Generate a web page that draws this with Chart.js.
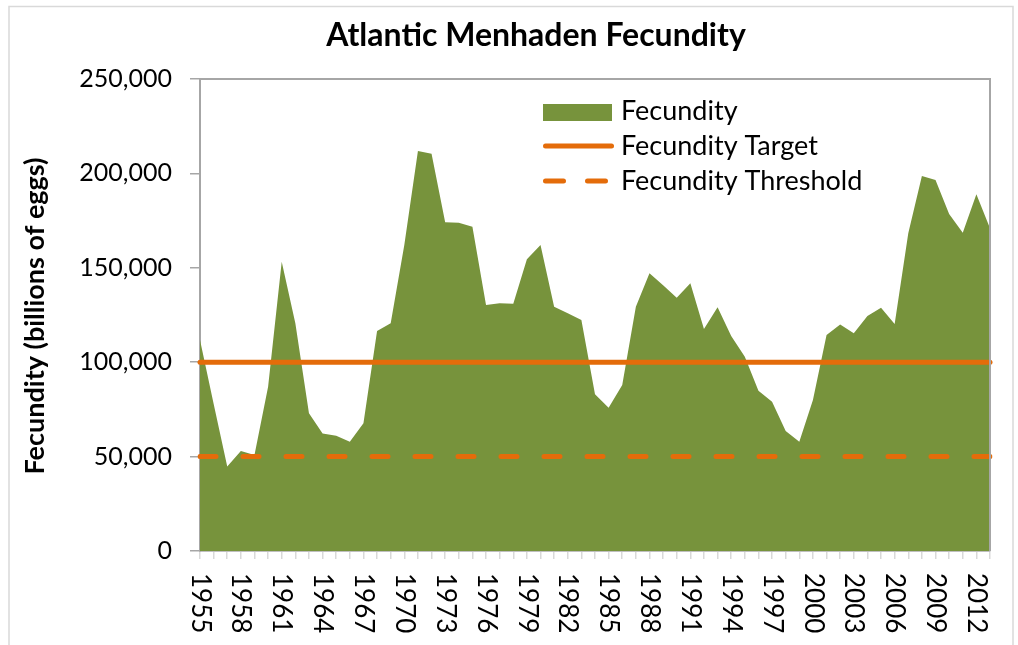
<!DOCTYPE html>
<html><head><meta charset="utf-8">
<script src="https://cdn.jsdelivr.net/npm/chart.js@4.4.0/dist/chart.umd.min.js"></script>
<style>html,body{margin:0;padding:0;background:#fff}#wrap{width:1018px;height:645px;position:relative}</style>
</head><body><div id="wrap"><canvas id="c" width="1018" height="645"></canvas></div>
<script>
const years = ['1955','1956','1957','1958','1959','1960','1961','1962','1963','1964',
  '1965','1966','1967','1968','1969','1970','1971','1972','1973','1974',
  '1975','1976','1977','1978','1979','1980','1981','1982','1983','1984',
  '1985','1986','1987','1988','1989','1990','1991','1992','1993','1994',
  '1995','1996','1997','1998','1999','2000','2001','2002','2003','2004',
  '2005','2006','2007','2008','2009','2010','2011','2012','2013'];
const fecundity = [111800,78000,44700,53000,50800,87000,153200,120600,72900,62300,
  61100,57900,67600,116500,120600,162100,211900,210400,174100,173900,
  171800,130300,131200,131000,154500,162100,129400,125900,122400,83000,
  75900,87900,129400,147100,140700,134200,141800,117600,129100,113900,
  102900,84900,79100,63600,57900,80000,114400,120000,115300,124500,
  128900,120200,168300,198600,196500,178500,168600,188900,170900];
const targetYears = ['1955','2013'];
const targetValues = [100000,100000];
const thresholdYears = ['1955','2013'];
const thresholdValues = [50000,50000];
const yTicks = [0,50000,100000,150000,200000,250000];
const xLabelEvery = 3;

const FONT = 'Lato';
const GREEN = '#77933C';
const ORANGE = '#E46C0A';

const extras = {
  id: 'extras',
  beforeDraw(chart) {
    const ctx = chart.ctx;
    ctx.save();
    ctx.strokeStyle = '#D9D9D9';
    ctx.lineWidth = 1.5;
    ctx.strokeRect(9, 6.5, 1004, 650);
    ctx.restore();
  },
  afterDatasetsDraw(chart) {
    const {ctx, chartArea: a} = chart;
    ctx.save();
    ctx.strokeStyle = '#A6A6A6';
    ctx.lineWidth = 2;
    ctx.beginPath();
    ctx.moveTo(a.left, a.top); ctx.lineTo(a.right, a.top); ctx.lineTo(a.right, a.bottom);
    ctx.stroke();
    ctx.restore();
  },
  afterDraw(chart) {
    const ctx = chart.ctx;
    ctx.save();
    // title
    ctx.fillStyle = '#000';
    ctx.font = 'bold 32px ' + FONT;
    ctx.textAlign = 'center';
    ctx.textBaseline = 'alphabetic';
    ctx.fillText('Atlantic Menhaden Fecundity', 536, 46);
    // y title
    ctx.save();
    ctx.translate(44, 316);
    ctx.rotate(-Math.PI / 2);
    ctx.font = 'bold 27px ' + FONT;
    ctx.fillText('Fecundity (billions of eggs)', 0, 0);
    ctx.restore();
    // x labels (rotated clockwise)
    const xs = chart.scales.x;
    ctx.font = '26px ' + FONT;
    ctx.textAlign = 'left';
    ctx.textBaseline = 'middle';
    years.forEach((yr, i) => {
      if (i % xLabelEvery !== 0) return;
      const x = xs.getPixelForValue(i);
      ctx.save();
      ctx.translate(x, 573);
      ctx.rotate(Math.PI / 2);
      ctx.fillText(yr, 0, 0);
      ctx.restore();
    });
    // legend
    const ds = chart.data.datasets;
    const lx = 543, tx = 621;
    ctx.fillStyle = GREEN;
    ctx.fillRect(lx, 104, 69, 17);
    ctx.strokeStyle = ORANGE;
    ctx.lineWidth = 5;
    ctx.lineCap = 'round';
    ctx.beginPath(); ctx.moveTo(lx + 2.5, 146); ctx.lineTo(lx + 68.5, 146); ctx.stroke();
    ctx.beginPath(); ctx.moveTo(lx + 2.5, 181); ctx.lineTo(lx + 20.5, 181);
    ctx.moveTo(lx + 44.5, 181); ctx.lineTo(lx + 62.5, 181); ctx.stroke();
    ctx.fillStyle = '#000';
    ctx.font = '27px ' + FONT;
    ctx.textAlign = 'left';
    ctx.textBaseline = 'alphabetic';
    ctx.fillText(ds[0].label, tx, 120);
    ctx.fillText(ds[1].label, tx, 155);
    ctx.fillText(ds[2].label, tx, 190);
    ctx.restore();
  }
};

new Chart(document.getElementById('c'), {
  type: 'line',
  data: {
    labels: years,
    datasets: [
      { label: 'Fecundity', data: fecundity, fill: 'origin', backgroundColor: GREEN,
        borderColor: 'rgba(0,0,0,0)', borderWidth: 0, pointRadius: 0, tension: 0, order: 3 },
      { label: 'Fecundity Target', data: targetYears.map((y, i) => ({x: y, y: targetValues[i]})),
        borderColor: ORANGE, borderWidth: 5, pointRadius: 0, fill: false, clip: false,
        borderCapStyle: 'round', order: 1 },
      { label: 'Fecundity Threshold', data: thresholdYears.map((y, i) => ({x: y, y: thresholdValues[i]})),
        borderColor: ORANGE, borderWidth: 5, pointRadius: 0, fill: false,
        borderDash: [16, 27], borderCapStyle: 'round', order: 2 }
    ]
  },
  options: {
    responsive: false,
    animation: false,
    events: [],
    layout: { padding: { top: 79, right: 28, left: 0, bottom: 0 } },
    plugins: { legend: { display: false }, title: { display: false }, tooltip: { enabled: false } },
    scales: {
      x: {
        type: 'category',
        offset: false,
        grid: { drawOnChartArea: false, drawTicks: true, tickLength: 8, color: '#D9D9D9', lineWidth: 1.5 },
        border: { display: true, color: '#BFBFBF', width: 2 },
        ticks: { autoSkip: false, minRotation: 90, maxRotation: 90, color: 'rgba(0,0,0,0)',
          font: { family: FONT, size: 12 },
          callback: (v, i) => (i % xLabelEvery === 0 ? years[i] : '') },
        afterFit: s => { s.height = 94; s.paddingRight = 0; s.paddingLeft = 0; }
      },
      y: {
        min: 0, max: 250000,
        afterBuildTicks: s => { s.ticks = yTicks.map(v => ({value: v})); },
        grid: { drawOnChartArea: false, drawTicks: true, tickLength: 10, color: '#A6A6A6', lineWidth: 1.5 },
        border: { display: true, color: '#A6A6A6', width: 2 },
        ticks: { color: '#000', padding: 18, font: { family: FONT, size: 25 },
          callback: v => v.toLocaleString('en-US') },
        afterFit: s => { s.width = 200; s.paddingTop = 0; s.paddingBottom = 0; }
      }
    }
  },
  plugins: [extras]
});
</script>
</body></html>
